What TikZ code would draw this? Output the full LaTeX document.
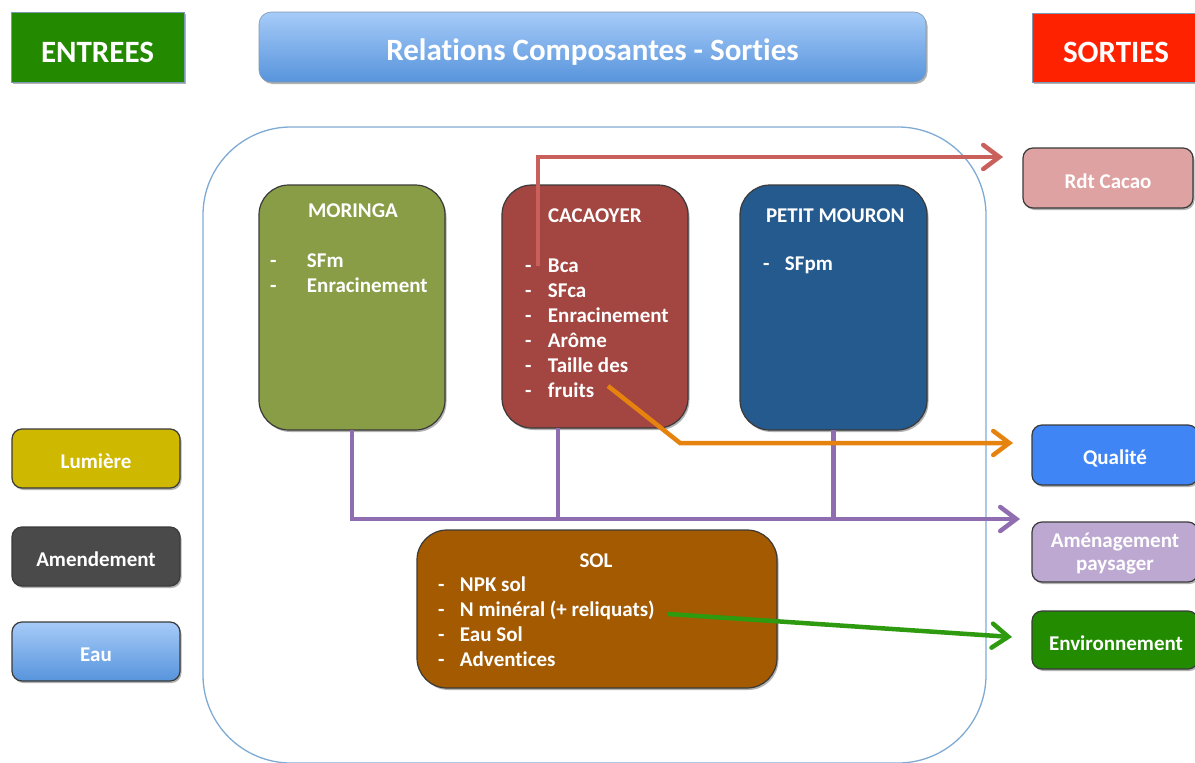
\documentclass[tikz,border=0pt]{standalone}
\usepackage{fontspec}
\setmainfont{Carlito}[Ligatures={NoCommon}]
\usetikzlibrary{arrows.meta,shadows}

\definecolor{entgreen}{HTML}{238A00}
\definecolor{sortred}{HTML}{FF2200}
\definecolor{titletop}{HTML}{A6CBF8}
\definecolor{titlebot}{HTML}{5794DC}
\definecolor{frameblue}{HTML}{7FAAD4}
\definecolor{edge}{HTML}{3A3A3A}
\definecolor{moringa}{HTML}{899D46}
\definecolor{cacao}{HTML}{A34540}
\definecolor{mouron}{HTML}{255A8E}
\definecolor{sol}{HTML}{A35A00}
\definecolor{lumiere}{HTML}{CFB800}
\definecolor{amend}{HTML}{4A4A4A}
\definecolor{rdt}{HTML}{DFA2A2}
\definecolor{qualite}{HTML}{3F85F6}
\definecolor{amenag}{HTML}{BCA8D0}
\definecolor{environ}{HTML}{228B00}
\definecolor{arrred}{HTML}{C9605B}
\definecolor{arrorange}{HTML}{E6820E}
\definecolor{arrpurple}{HTML}{8F6DB0}
\definecolor{arrgreen}{HTML}{2E9A10}

\newcommand{\itm}[2][23pt]{\makebox[#1][l]{-}#2}

\begin{document}
\begin{tikzpicture}[x=1pt,y=-1pt,
  every node/.style={inner sep=0pt, outer sep=0pt},
  txt/.style={text=white, font=\fontsize{21}{25}\selectfont\bfseries},
  headtxt/.style={text=white, font=\fontsize{31}{36}\selectfont\bfseries},
  shade/.style={drop shadow={shadow xshift=1.5pt, shadow yshift=-2pt, opacity=0.3, fill=black}},
  header/.style={draw=frameblue!60!gray, line width=0.6pt, anchor=north west, shade},
  smallbox/.style={draw=edge, line width=1.2pt, rounded corners=10pt, anchor=north west, shade},
  bigbox/.style={draw=edge, line width=1.2pt, rounded corners=30pt, anchor=north west, shade},
  frame/.style={draw=frameblue, line width=1.3pt, rounded corners=88pt, anchor=north west},
  link/.style={line width=4.5pt, line join=miter},
  tip/.style={-{Straight Barb[length=16pt, width=24pt, line cap=round]}}
]
\useasboundingbox (0,0) rectangle (1195,763);

% outer frame of the system
\begin{scope}
  \clip (0,0) rectangle (1195,763);
  \node[frame, minimum width=783pt, minimum height=636pt] (sys) at (203,127) {};
\end{scope}

% headers
\node[header, fill=entgreen, minimum width=173pt, minimum height=70pt] (entrees) at (11,12) {};
\node[headtxt, anchor=base] (entreesT) at (97.5,62) {ENTREES};
\node[header, rounded corners=12pt, top color=titletop, bottom color=titlebot,
      minimum width=667pt, minimum height=70pt] (title) at (259,12) {};
\node[headtxt, anchor=base] (titleT) at (592.5,60) {Relations Composantes - Sorties};
\node[header, fill=sortred, minimum width=166pt, minimum height=69pt] (sorties) at (1032,13) {};
\node[headtxt, anchor=base] (sortiesT) at (1116,62) {SORTIES};

% inputs
\node[smallbox, fill=lumiere, minimum width=168pt, minimum height=59pt] (lum) at (12,429) {};
\node[txt, anchor=base] (lumT) at (96,468) {Lumière};
\node[smallbox, fill=amend, minimum width=168pt, minimum height=59pt] (amd) at (12,527) {};
\node[txt, anchor=base] (amdT) at (96,566) {Amendement};
\node[smallbox, top color=titletop, bottom color=titlebot, minimum width=168pt, minimum height=59pt] (eau) at (12,622) {};
\node[txt, anchor=base] (eauT) at (96,661) {Eau};

% outputs
\node[smallbox, fill=rdt, minimum width=170pt, minimum height=60pt] (rdtc) at (1023,148) {};
\node[txt, anchor=base] (rdtT) at (1108,188) {Rdt Cacao};
\node[smallbox, fill=qualite, minimum width=166pt, minimum height=60pt] (qual) at (1032,425) {};
\node[txt, anchor=base] (qualT) at (1115,464) {Qualité};
\node[smallbox, fill=amenag, minimum width=166pt, minimum height=60pt] (amen) at (1032,522) {};
\node[txt, anchor=base] (amenT1) at (1115,547) {Aménagement};
\node[txt, anchor=base] (amenT2) at (1115,570) {paysager};
\node[smallbox, fill=environ, minimum width=166pt, minimum height=58pt] (env) at (1032,611) {};
\node[txt, anchor=base] (envT) at (1116,650) {Environnement};

% components
\node[bigbox, fill=moringa, minimum width=186pt, minimum height=245pt] (mor) at (259,185) {};
\node[txt, anchor=base west] (morT) at (308,217) {MORINGA};
\node[txt, anchor=base west] (morL) at (270,267)
  {\begin{tabular}[t]{@{}l@{}}\itm[37pt]{SFm}\\ \itm[37pt]{Enracinement}\end{tabular}};

\node[bigbox, fill=cacao, minimum width=186pt, minimum height=243pt] (cac) at (502,185) {};
\node[txt, anchor=base west] (cacT) at (548,222) {CACAOYER};
\node[txt, anchor=base west] (cacL) at (525,272)
  {\begin{tabular}[t]{@{}l@{}}\itm{Bca}\\ \itm{SFca}\\ \itm{Enracinement}\\ \itm{Arôme}\\ \itm{Taille des}\\ \itm{}fruits\end{tabular}};

\node[bigbox, fill=mouron, minimum width=187pt, minimum height=245pt] (mou) at (740,185) {};
\node[txt, anchor=base west] (mouT) at (766,222) {PETIT MOURON};
\node[txt, anchor=base west] (mouL) at (763,270) {\itm[22pt]{SFpm}};

\node[bigbox, fill=sol, minimum width=360pt, minimum height=158pt] (solB) at (417,530) {};
\node[txt, anchor=base] (solT) at (596,567) {SOL};
\node[txt, anchor=base west] (solL) at (438,591)
  {\begin{tabular}[t]{@{}l@{}}\itm[22pt]{NPK sol}\\ \itm[22pt]{N minéral (+ reliquats)}\\ \itm[22pt]{Eau Sol}\\ \itm[22pt]{Adventices}\end{tabular}};

% connector end points
\coordinate (bcaPt) at (538,266);
\coordinate (rdtTip) at (1003,157);
\coordinate (fruitPt) at (608,386);
\coordinate (qualKnee) at (680,443);
\coordinate (qualTip) at (1013,443);
\coordinate (cacLink) at (558,428);
\coordinate (amenTip) at (1020,519);
\coordinate (nminPt) at (668,614);
\coordinate (envTip) at (1012,637);

% connectors
\draw[link, arrpurple, tip] (mor.south) |- (amenTip);
\draw[link, arrpurple] (cacLink) -- (cacLink |- amenTip);
\draw[link, arrpurple] (mou.south) -- (mou.south |- amenTip);
\draw[link, arrred, tip] (bcaPt) |- (rdtTip);
\draw[link, arrorange, tip] (fruitPt) -- (qualKnee) -- (qualTip);
\draw[link, arrgreen, tip] (nminPt) -- (envTip);
\end{tikzpicture}
\end{document}
